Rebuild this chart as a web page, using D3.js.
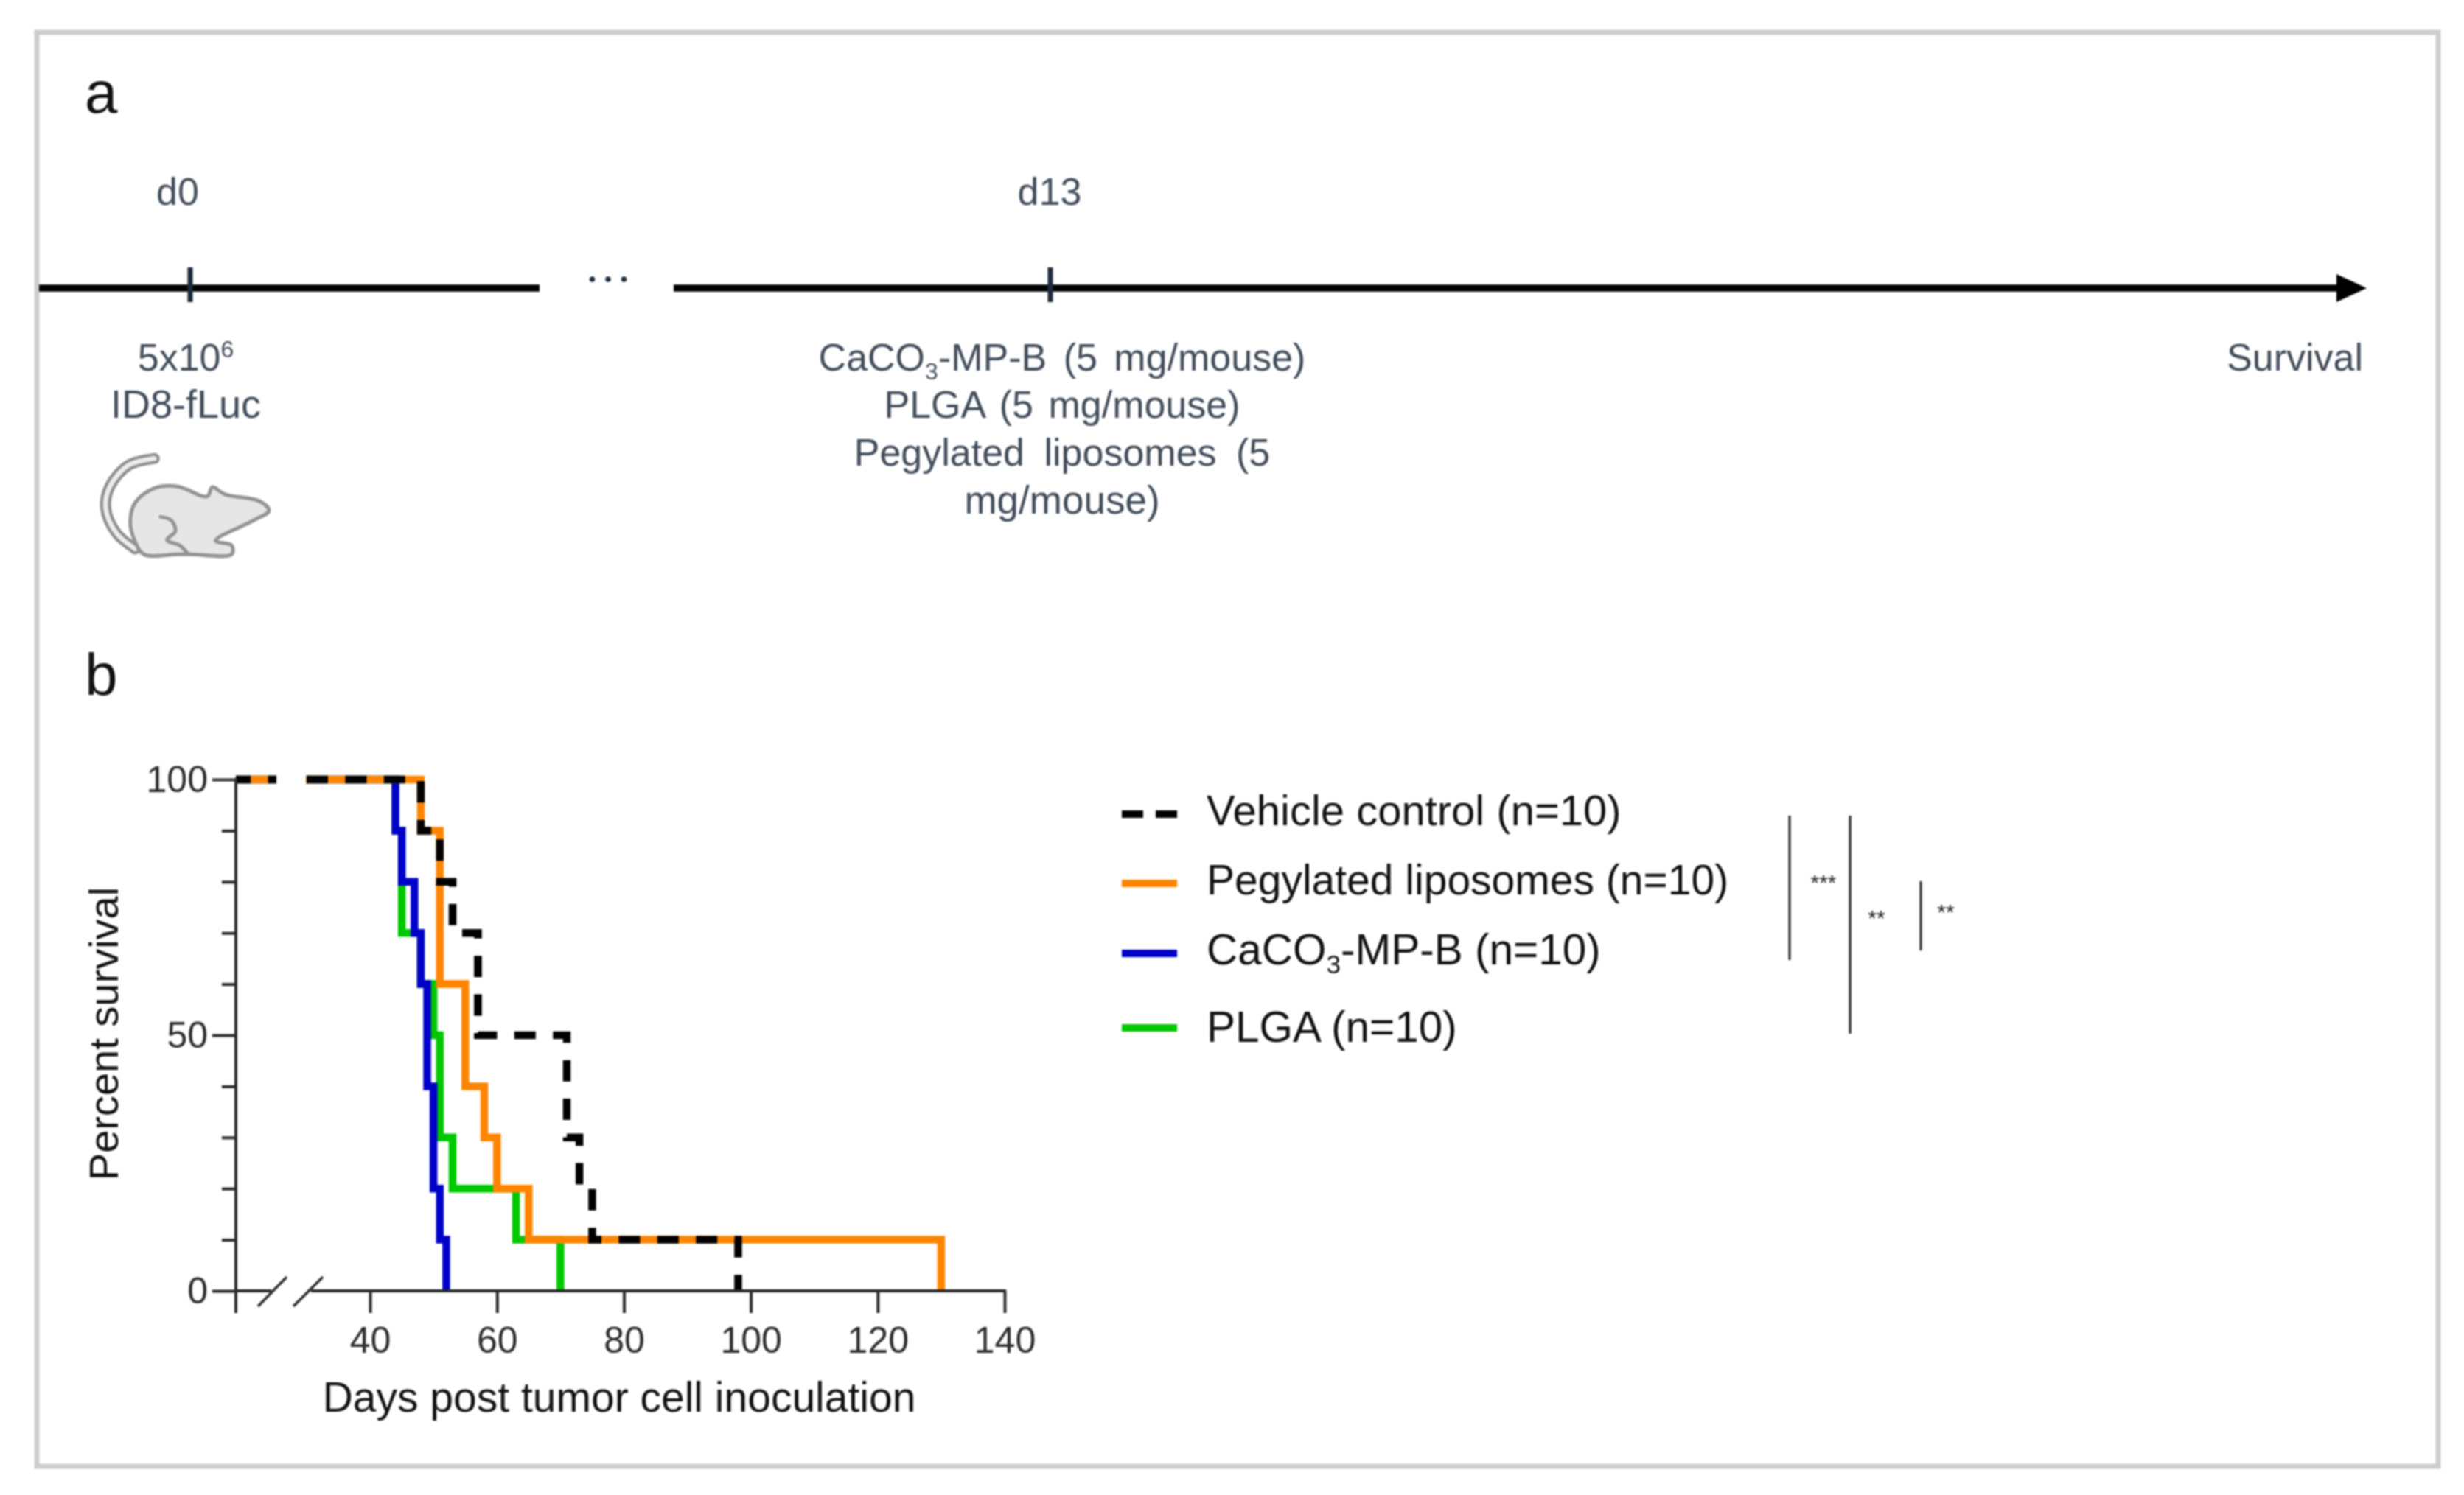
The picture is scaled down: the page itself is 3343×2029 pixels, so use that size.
<!DOCTYPE html>
<html><head><meta charset="utf-8">
<script src="https://cdn.jsdelivr.net/npm/d3@7"></script>
<style>html,body{margin:0;padding:0;background:#fff}svg{display:block;filter:blur(0.8px)}text{font-family:"Liberation Sans",Arial,sans-serif}</style>
</head><body><div id="c"></div>
<script>
// ---- data ----
const vehicleDays=[0,48,51,53,57,71,73,75,98];
const vehicleSurv=[100,90,80,70,50,30,20,10,0];
const pegDays=[0,48,51,55,58,60,65,130];
const pegSurv=[100,90,60,40,30,20,10,0];
const cacoDays=[0,44,45,47,48,49,50,51,52];
const cacoSurv=[100,90,80,70,60,40,20,10,0];
const plgaDays=[0,44,45,48,50,51,53,63,70];
const plgaSurv=[100,90,70,60,50,30,20,10,0];
const xTicks=[40,60,80,100,120,140];
const yMajor=[0,50,100];
const yMinor=[10,20,30,40,60,70,80,90];
const legendNames=["Vehicle control (n=10)","Pegylated liposomes (n=10)","CaCO3-MP-B (n=10)","PLGA (n=10)"];
const colors={veh:"#000000",peg:"#ff8500",caco:"#0000c8",plga:"#00c800"};

const W=3343,H=2029;
const svg=d3.select("#c").append("svg").attr("width",W).attr("height",H);
svg.append("rect").attr("width",W).attr("height",H).attr("fill","#fff");
svg.append("rect").attr("x",50).attr("y",44).attr("width",3258).attr("height",1946).attr("fill","#fff").attr("stroke","#cdcdcd").attr("stroke-width",7);

const tcol="#414c5a";
function t(x,y,s,opt={}){const e=svg.append("text").attr("x",x).attr("y",y).attr("text-anchor",opt.a||"middle").attr("font-size",opt.f||52).attr("fill",opt.c||tcol).text(s);if(opt.ws)e.attr("word-spacing",opt.ws);return e;}

// ---- panel a ----
t(115,153,"a",{a:"start",f:80,c:"#111"});
t(115,943,"b",{a:"start",f:80,c:"#111"});
const tlY=391;
[[53,732],[914,3175]].forEach(d=>svg.append("line").attr("x1",d[0]).attr("x2",d[1]).attr("y1",tlY).attr("y2",tlY).attr("stroke","#000").attr("stroke-width",9.5));
svg.append("path").attr("d",d3.line()([[3170,tlY-19],[3211,tlY],[3170,tlY+19]])+"Z").attr("fill","#000");
[258,1425].forEach(x=>svg.append("line").attr("x1",x).attr("x2",x).attr("y1",363).attr("y2",410).attr("stroke","#1c2a3a").attr("stroke-width",7));
[803.5,825,846.5].forEach(x=>svg.append("circle").attr("cx",x).attr("cy",379).attr("r",3.8).attr("fill","#1c2a3a"));
t(241,278,"d0");t(1424,278,"d13");
const l1=t(252,503,"5x10");l1.append("tspan").attr("dy",-18).attr("font-size",32).text("6");
t(252,567,"ID8-fLuc",{f:54});
const l2=t(1441,503,"CaCO",{ws:8});l2.append("tspan").attr("dy",12).attr("font-size",32).text("3");l2.append("tspan").attr("dy",-12).text("-MP-B (5 mg/mouse)");
t(1441,567,"PLGA (5 mg/mouse)",{ws:6});
t(1441,632,"Pegylated liposomes (5",{ws:12});
t(1441,697,"mg/mouse)",{f:53});
t(3206,503,"Survival",{a:"end"});

// mouse icon
const mp=p=>[40+p[0]/1.742,30+p[1]/2.063];
const lineC=d3.line().curve(d3.curveCatmullRom.alpha(0.5));
const tailO=[[295,1222],[235,1240],[190,1300],[180,1360],[205,1430],[250,1475]].map(mp);
svg.append("path").attr("d",lineC(tailO)).attr("fill","none").attr("stroke","#8f8f8f").attr("stroke-width",15).attr("stroke-linecap","round");
svg.append("path").attr("d",lineC(tailO)).attr("fill","none").attr("stroke","#ececec").attr("stroke-width",6.5).attr("stroke-linecap","round");
const bodyPts=[[270,1490],[248,1450],[238,1400],[250,1345],[295,1305],[350,1300],[420,1328],[432,1302],[462,1322],[545,1342],[566,1368],[530,1395],[440,1452],[478,1465],[478,1490],[380,1490],[350,1490]].map(mp);
svg.append("path").attr("d",d3.line().curve(d3.curveCatmullRomClosed.alpha(0.5))(bodyPts)).attr("fill","#e6e6e6").attr("stroke","#939393").attr("stroke-width",5).attr("stroke-linejoin","round");
svg.append("path").attr("d",lineC([[310,1385],[335,1395],[345,1425],[325,1450],[355,1465],[375,1490]].map(mp))).attr("fill","none").attr("stroke","#939393").attr("stroke-width",5).attr("stroke-linecap","round");

// ---- panel b ----
const axX=320;
const x=d3.scaleLinear().domain([0,20,30,140]).range([axX,375,416,1363]);
const y=d3.scaleLinear().domain([0,100]).range([1752,1058]);
const defs=svg.append("defs");
const cp=defs.append("clipPath").attr("id","brk");
cp.append("rect").attr("x",0).attr("y",0).attr("width",x(20)).attr("height",H);
cp.append("rect").attr("x",x(30)-1).attr("y",0).attr("width",W).attr("height",H);

function stepPts(days,surv){const p=[];days.forEach((d,i)=>{if(i>0)p.push([d,surv[i-1]]);p.push([d,surv[i]]);});return p;}
const ln=d3.line().x(d=>x(d[0])).y(d=>y(d[1]));
const gc=svg.append("g").attr("clip-path","url(#brk)");
const series=[[plgaDays,plgaSurv,colors.plga,null],[cacoDays,cacoSurv,colors.caco,null],[pegDays,pegSurv,colors.peg,null],[vehicleDays,vehicleSurv,colors.veh,"29 23.4"]];
series.forEach(s=>{gc.append("path").attr("d",ln(stepPts(s[0],s[1]))).attr("fill","none").attr("stroke",s[2]).attr("stroke-width",10.5).attr("stroke-linejoin","miter").attr("stroke-dasharray",s[3]).attr("stroke-dashoffset",s[3]?8.8:0);});

const axc="#2a2a2a";
function sty(g){g.selectAll("path.domain").remove();g.selectAll("line").attr("stroke",axc).attr("stroke-width",4);g.selectAll("text").attr("fill","#2b2b2b").attr("font-size",50).attr("font-family",'"Liberation Sans",Arial,sans-serif');}
// y axis
const ya=svg.append("g").attr("transform",`translate(${axX},0)`).call(d3.axisLeft(y).tickValues(yMajor).tickSize(32).tickPadding(6));sty(ya);
const yb=svg.append("g").attr("transform",`translate(${axX},0)`).call(d3.axisLeft(y).tickValues(yMinor).tickSize(19).tickFormat(""));sty(yb);
svg.append("line").attr("x1",axX).attr("x2",axX).attr("y1",y(100)-2).attr("y2",y(0)+2).attr("stroke",axc).attr("stroke-width",4);
// x axis
const xa=svg.append("g").attr("transform","translate(0,1752)").call(d3.axisBottom(x).tickValues(xTicks).tickSize(30).tickPadding(18).tickFormat(d3.format("d")));sty(xa);
svg.append("line").attr("x1",axX).attr("x2",axX).attr("y1",1752).attr("y2",1782).attr("stroke",axc).attr("stroke-width",4);
[[axX-2,368],[422,1365]].forEach(d=>svg.append("line").attr("x1",d[0]).attr("x2",d[1]).attr("y1",1752).attr("y2",1752).attr("stroke",axc).attr("stroke-width",4));
[[350,1773,389,1733],[398,1773,438,1733]].forEach(d=>svg.append("line").attr("x1",d[0]).attr("y1",d[1]).attr("x2",d[2]).attr("y2",d[3]).attr("stroke",axc).attr("stroke-width",3.5));

t(840,1916,"Days post tumor cell inoculation",{f:57,c:"#111"});
svg.append("text").attr("transform","translate(160,1403) rotate(-90)").attr("text-anchor","middle").attr("font-size",56).attr("fill","#111").text("Percent survival");

// legend
const legY=[1105,1199,1294,1395],legTY=[1120,1214,1309,1414],legF=[58,57,58.5,58.5],legC=[colors.veh,colors.peg,colors.caco,colors.plga],legD=["29 17",null,null,null];
legendNames.forEach((n,i)=>{
 svg.append("line").attr("x1",1522).attr("x2",1597).attr("y1",legY[i]).attr("y2",legY[i]).attr("stroke",legC[i]).attr("stroke-width",10).attr("stroke-dasharray",legD[i]);
 const tx=svg.append("text").attr("x",1637).attr("y",legTY[i]).attr("font-size",legF[i]).attr("fill","#111");
 const m=n.match(/^(CaCO)3(.*)$/);
 if(m){tx.text(m[1]);tx.append("tspan").attr("dy",12).attr("font-size",35).text("3");tx.append("tspan").attr("dy",-12).text(m[2]);}else tx.text(n);
});
// significance
[[2428,1107,1303],[2510,1107,1403],[2606,1196,1290]].forEach(d=>svg.append("line").attr("x1",d[0]).attr("x2",d[0]).attr("y1",d[1]).attr("y2",d[2]).attr("stroke","#222").attr("stroke-width",3));
[[2474,1208,"***"],[2546,1256,"**"],[2640,1248,"**"]].forEach(d=>t(d[0],d[1],d[2],{f:30,c:"#222"}));
</script></body></html>
